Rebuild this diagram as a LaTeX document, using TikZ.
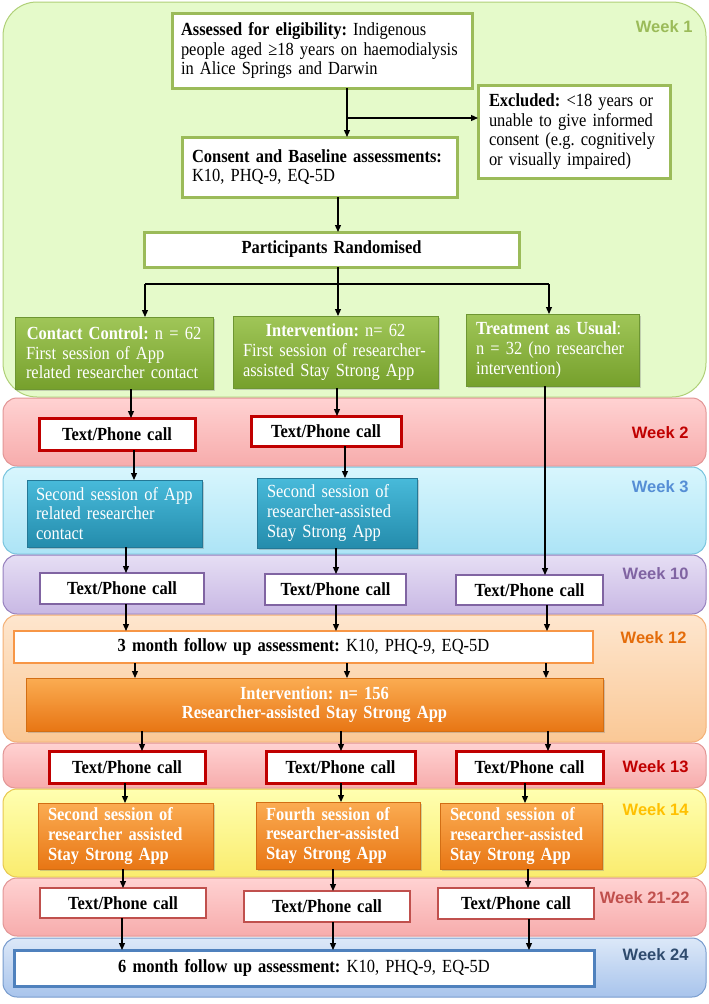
\documentclass[tikz,border=0pt]{standalone}
\usepackage{fontspec}
\setmainfont{Liberation Serif}[FakeStretch=0.89]
\newfontfamily\wkfont{Liberation Sans}
\usetikzlibrary{arrows.meta,shadows}
\hyphenpenalty=10000
\exhyphenpenalty=10000
\definecolor{gline}{RGB}{155,187,89}
\definecolor{gbandfill}{RGB}{229,250,202}
\definecolor{gbandline}{RGB}{176,208,120}
\definecolor{redline}{RGB}{192,0,0}
\definecolor{pinktop}{RGB}{255,210,210}
\definecolor{pinkbot}{RGB}{247,172,172}
\definecolor{pinkline}{RGB}{226,150,150}
\definecolor{cyantop}{RGB}{216,246,253}
\definecolor{cyanbot}{RGB}{172,228,246}
\definecolor{cyanline}{RGB}{120,196,222}
\definecolor{lavtop}{RGB}{230,222,244}
\definecolor{lavbot}{RGB}{200,184,228}
\definecolor{lavline}{RGB}{150,128,190}
\definecolor{peachtop}{RGB}{254,230,206}
\definecolor{peachbot}{RGB}{250,200,150}
\definecolor{peachline}{RGB}{244,176,118}
\definecolor{yeltop}{RGB}{255,255,176}
\definecolor{yelbot}{RGB}{250,236,110}
\definecolor{yelline}{RGB}{232,200,80}
\definecolor{bluetop}{RGB}{220,232,248}
\definecolor{bluebot}{RGB}{168,196,236}
\definecolor{blueline}{RGB}{120,156,206}
\definecolor{wk1}{RGB}{155,187,89}
\definecolor{wk3}{RGB}{85,142,213}
\definecolor{wk10}{RGB}{128,100,162}
\definecolor{wk12}{RGB}{228,108,10}
\definecolor{wk14}{RGB}{255,192,0}
\definecolor{wk21}{RGB}{192,80,77}
\definecolor{wk24}{RGB}{47,75,110}
\definecolor{purline}{RGB}{128,100,162}
\definecolor{orline}{RGB}{247,150,70}
\definecolor{r21line}{RGB}{192,80,77}
\definecolor{b24line}{RGB}{79,129,189}
\definecolor{grtop}{RGB}{160,198,88}
\definecolor{grbot}{RGB}{118,160,44}
\definecolor{grline}{RGB}{110,150,50}
\definecolor{tltop}{RGB}{72,186,218}
\definecolor{tlbot}{RGB}{36,140,172}
\definecolor{tlline}{RGB}{36,120,150}
\definecolor{ortop}{RGB}{251,172,82}
\definecolor{orbot}{RGB}{232,118,20}
\definecolor{ordline}{RGB}{210,110,20}
\begin{document}
\begin{tikzpicture}[x=1pt,y=-1pt,
  txt/.style={font=\fontsize{18.5}{19.6}\selectfont\frenchspacing},
  base/.style={txt,anchor=north west,inner ysep=0pt,outer sep=0pt},
  wbox/.style={base,fill=white,draw=#1,line width=3pt},
  gbox/.style={base,top color=grtop,bottom color=grbot,draw=grline,line width=0.6pt,text=white,
    drop shadow={shadow xshift=2pt,shadow yshift=-2pt,opacity=0.35}},
  tbox/.style={base,top color=tltop,bottom color=tlbot,draw=tlline,line width=0.6pt,text=white,
    drop shadow={shadow xshift=2pt,shadow yshift=-2pt,opacity=0.35}},
  obox/.style={base,top color=ortop,bottom color=orbot,draw=ordline,line width=0.6pt,text=white,
    drop shadow={shadow xshift=2pt,shadow yshift=-2pt,opacity=0.35}},
  bbold/.style={font=\fontsize{18.5}{19.6}\selectfont\frenchspacing\bfseries},
  wk/.style={anchor=east,font=\wkfont\bfseries\fontsize{16.5}{19}\selectfont,text=#1},
  arr/.style={-{Triangle[length=7pt,width=6pt]},line width=1.2pt},
  ln/.style={line width=1.2pt}]
\useasboundingbox (0,0) rectangle (709,1004);
\fill[white] (0,0) rectangle (709,1004);
% bands
\draw[fill=gbandfill,draw=gbandline,line width=1pt,rounded corners=34pt] (3,2) rectangle (706,397);
\draw[top color=pinktop,bottom color=pinkbot,draw=pinkline,line width=1pt,rounded corners=14pt] (3,398) rectangle (706,466);
\draw[top color=cyantop,bottom color=cyanbot,draw=cyanline,line width=1pt,rounded corners=14pt] (3,467) rectangle (706,554);
\draw[top color=lavtop,bottom color=lavbot,draw=lavline,line width=1pt,rounded corners=14pt] (3,555) rectangle (706,614);
\draw[top color=peachtop,bottom color=peachbot,draw=peachline,line width=1pt,rounded corners=14pt] (3,615) rectangle (706,742);
\draw[top color=pinktop,bottom color=pinkbot,draw=pinkline,line width=1pt,rounded corners=12pt] (3,743) rectangle (706,788);
\draw[top color=yeltop,bottom color=yelbot,draw=yelline,line width=1pt,rounded corners=14pt] (3,789) rectangle (706,877);
\draw[top color=pinktop,bottom color=pinkbot,draw=pinkline,line width=1pt,rounded corners=14pt] (3,878) rectangle (706,936);
\draw[top color=bluetop,bottom color=bluebot,draw=blueline,line width=1pt,rounded corners=14pt] (3,938) rectangle (706,997);
% week labels
\node[wk=wk1] (l1) at (696,27) {Week 1};
\node[wk=redline] (l2) at (692,433) {Week 2};
\node[wk=wk3] (l3) at (692,487) {Week 3};
\node[wk=wk10] (l10) at (692,574) {Week 10};
\node[wk=wk12] (l12) at (690,638) {Week 12};
\node[wk=redline] (l13) at (692,767) {Week 13};
\node[wk=wk14] (l14) at (692,810) {Week 14};
\node[wk=wk21] (l21) at (693,898) {Week 21-22};
\node[wk=wk24] (l24) at (692,955) {Week 24};
% week 1 nodes
\node[wbox=gline,inner xsep=9pt,text width=282pt,minimum height=75pt,align=left] (assess) at (172,13)
 {\textbf{Assessed for eligibility:} Indigenous\\people aged ≥18 years on haemodialysis\\in Alice Springs and Darwin};
\node[wbox=gline,inner xsep=11pt,text width=170pt,minimum height=93pt,align=left] (excl) at (478,85)
 {\textbf{Excluded:} <18 years or\\unable to give informed\\consent (e.g. cognitively\\or visually impaired)};
\node[wbox=gline,inner xsep=10pt,text width=255pt,minimum height=60pt,align=left] (consent) at (182,137)
 {\textbf{Consent and Baseline assessments:}\\K10, PHQ-9, EQ-5D};
\node[wbox=gline,inner xsep=0pt,text width=375pt,minimum height=35pt,align=center] (rand) at (144,232)
 {\textbf{Participants Randomised}};
\node[gbox,inner xsep=11pt,text width=176pt,minimum height=72pt,align=left] (cc) at (15,317)
 {\makebox[\linewidth][c]{\textbf{Contact Control:} n = 62}\\First session of App\\related researcher contact};
\node[gbox,inner xsep=10pt,text width=185pt,minimum height=72pt,align=left] (iv) at (233,316)
 {\makebox[\linewidth][c]{\textbf{Intervention:} n= 62}\\First session of researcher-\\assisted Stay Strong App};
\node[gbox,inner xsep=10pt,text width=153pt,minimum height=72pt,align=left] (tau) at (466,314)
 {\textbf{Treatment as Usual}:\\n = 32 (no researcher\\intervention)};
% week 2
\node[wbox=redline,inner xsep=0pt,text width=156pt,minimum height=32pt,align=center] (tpa) at (39,418) {\textbf{Text/Phone call}};
\node[wbox=redline,inner xsep=0pt,text width=150pt,minimum height=30pt,align=center] (tpb) at (251,416) {\textbf{Text/Phone call}};
% week 3
\node[tbox,inner xsep=9pt,text width=157pt,minimum height=67pt,align=left] (w3a) at (27,480)
 {Second session of App\\related researcher\\contact};
\node[tbox,inner xsep=10pt,text width=140pt,minimum height=70pt,align=left] (w3b) at (257,478)
 {Second session of\\researcher-assisted\\Stay Strong App};
% week 10
\node[wbox=purline,line width=2.5pt,inner xsep=0pt,text width=164pt,minimum height=31pt,align=center] (w10a) at (40,573) {\textbf{Text/Phone call}};
\node[wbox=purline,line width=2.5pt,inner xsep=0pt,text width=141pt,minimum height=31pt,align=center] (w10b) at (265,574) {\textbf{Text/Phone call}};
\node[wbox=purline,line width=2.5pt,inner xsep=0pt,text width=147pt,minimum height=30pt,align=center] (w10c) at (456,575) {\textbf{Text/Phone call}};
% week 12
\node[wbox=orline,line width=2.5pt,inner xsep=0pt,text width=579pt,minimum height=32pt,align=center] (fu3) at (14,631)
 {\textbf{3 month follow up assessment:} K10, PHQ-9, EQ-5D};
\node[obox,inner xsep=0pt,text width=577pt,minimum height=53pt,align=center] (iv156) at (26,678)
 {\textbf{Intervention: n= 156}\\\textbf{Researcher-assisted Stay Strong App}};
% week 13
\node[wbox=redline,inner xsep=0pt,text width=156pt,minimum height=32pt,align=center] (w13a) at (49,751) {\textbf{Text/Phone call}};
\node[wbox=redline,inner xsep=0pt,text width=149pt,minimum height=32pt,align=center] (w13b) at (266,751) {\textbf{Text/Phone call}};
\node[wbox=redline,inner xsep=0pt,text width=147pt,minimum height=32pt,align=center] (w13c) at (456,751) {\textbf{Text/Phone call}};
% week 14
\node[obox,bbold,inner xsep=10pt,text width=155pt,minimum height=66pt,align=left] (w14a) at (38,803)
 {Second session of\\researcher assisted\\Stay Strong App};
\node[obox,bbold,inner xsep=10pt,text width=144pt,minimum height=67pt,align=left] (w14b) at (256,802)
 {Fourth session of\\researcher-assisted\\Stay Strong App};
\node[obox,bbold,inner xsep=10pt,text width=142pt,minimum height=66pt,align=left] (w14c) at (440,803)
 {Second session of\\researcher-assisted\\Stay Strong App};
% week 21-22
\node[wbox=r21line,line width=2.5pt,inner xsep=0pt,text width=166pt,minimum height=30pt,align=center] (w21a) at (40,888) {\textbf{Text/Phone call}};
\node[wbox=r21line,line width=2.5pt,inner xsep=0pt,text width=166pt,minimum height=31pt,align=center] (w21b) at (244,891) {\textbf{Text/Phone call}};
\node[wbox=r21line,line width=2.5pt,inner xsep=0pt,text width=156pt,minimum height=31pt,align=center] (w21c) at (438,888) {\textbf{Text/Phone call}};
% week 24
\node[wbox=b24line,inner xsep=0pt,text width=580pt,minimum height=36pt,align=center] (fu6) at (14,950)
 {\textbf{6 month follow up assessment:} K10, PHQ-9, EQ-5D};
% connectors
\coordinate (exc) at (347,118);
\coordinate (split) at (338,284);
\draw[arr] (assess.south -| 347,0) -- (consent.north -| 347,0);
\draw[arr] (exc) -- (excl.west |- exc);
\draw[arr] (consent.south -| 338,0) -- (rand.north -| 338,0);
\draw[ln] (rand.south -| split) -- (split);
\draw[ln] (145,284) -- (549,284);
\draw[arr] (split -| 145,0) -- (cc.north -| 145,0);
\draw[arr] (split) -- (iv.north -| split);
\draw[arr] (split -| 549,0) -- (tau.north -| 549,0);
\draw[arr] (cc.south -| 131,0) -- (tpa.north -| 131,0);
\draw[arr] (iv.south -| 337,0) -- (tpb.north -| 337,0);
\draw[arr] (tau.south -| 545,0) -- (w10c.north -| 545,0);
\draw[arr] (tpa.south -| 134,0) -- (w3a.north -| 134,0);
\draw[arr] (tpb.south -| 345,0) -- (w3b.north -| 345,0);
\draw[arr] (w3a.south -| 126,0) -- (w10a.north -| 126,0);
\draw[arr] (w3b.south -| 336,0) -- (w10b.north -| 336,0);
\draw[arr] (w10a.south -| 126,0) -- (fu3.north -| 126,0);
\draw[arr] (w10b.south -| 336,0) -- (fu3.north -| 336,0);
\draw[arr] (w10c.south -| 547,0) -- (fu3.north -| 547,0);
\draw[arr] (fu3.south -| 135,0) -- (iv156.north -| 135,0);
\draw[arr] (fu3.south -| 347,0) -- (iv156.north -| 347,0);
\draw[arr] (fu3.south -| 546,0) -- (iv156.north -| 546,0);
\draw[arr] (iv156.south -| 142,0) -- (w13a.north -| 142,0);
\draw[arr] (iv156.south -| 341,0) -- (w13b.north -| 341,0);
\draw[arr] (iv156.south -| 548,0) -- (w13c.north -| 548,0);
\draw[arr] (w13a.south -| 125,0) -- (w14a.north -| 125,0);
\draw[arr] (w13b.south -| 341,0) -- (w14b.north -| 341,0);
\draw[arr] (w13c.south -| 525,0) -- (w14c.north -| 525,0);
\draw[arr] (w14a.south -| 123,0) -- (w21a.north -| 123,0);
\draw[arr] (w14b.south -| 333,0) -- (w21b.north -| 333,0);
\draw[arr] (w14c.south -| 528,0) -- (w21c.north -| 528,0);
\draw[arr] (w21a.south -| 122,0) -- (fu6.north -| 122,0);
\draw[arr] (w21b.south -| 333,0) -- (fu6.north -| 333,0);
\draw[arr] (w21c.south -| 529,0) -- (fu6.north -| 529,0);
\end{tikzpicture}
\end{document}
